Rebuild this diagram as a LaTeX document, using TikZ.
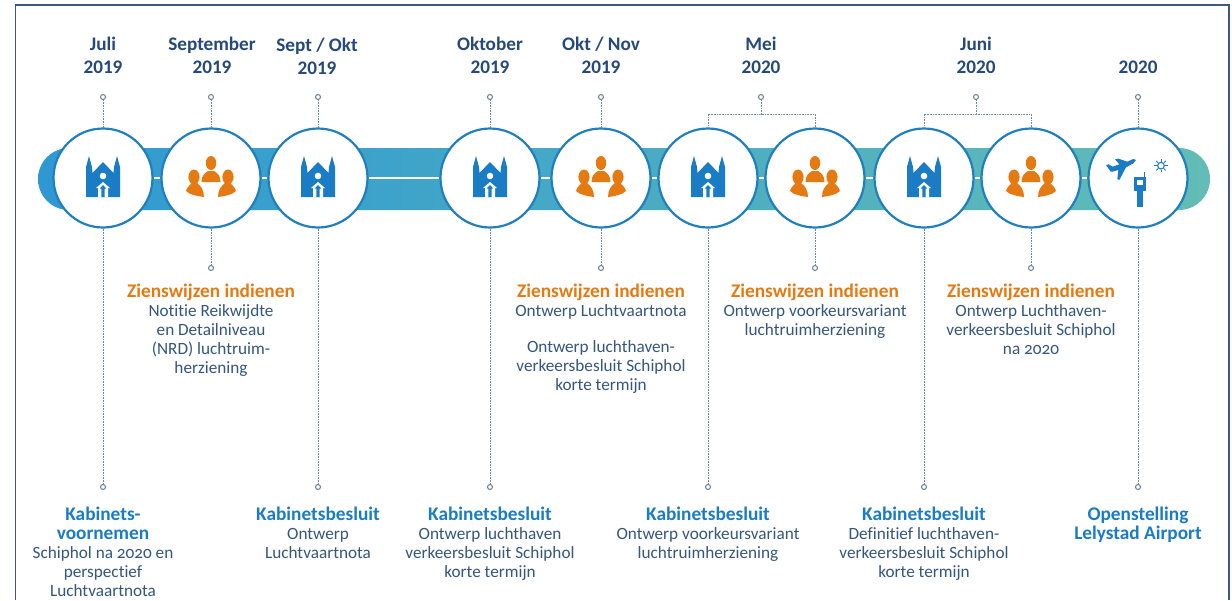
\documentclass[tikz,border=0pt]{standalone}
\usepackage{fontspec}
\setmainfont[Ligatures=NoCommon,Numbers=OldStyle]{Carlito}
\newfontfamily\datefont[Ligatures=NoCommon,Numbers=Lining]{Carlito}
\usetikzlibrary{calc}
\definecolor{cblue}{HTML}{1A7CC4}
\definecolor{cring}{HTML}{1F7FBF}
\definecolor{corange}{HTML}{E67A12}
\definecolor{cnavy}{HTML}{34567F}
\definecolor{cdate}{HTML}{24497A}
\definecolor{cdot}{HTML}{7488A3}
\definecolor{cbar}{HTML}{2F98D2}
\definecolor{cteal}{HTML}{62BDB6}
\definecolor{cframe}{HTML}{3F5680}
\newcommand{\hd}[1]{{\fontsize{19.3}{19}\selectfont\bfseries #1}}
\tikzset{
  x=1pt,y=-1pt,
  stopring/.style={circle,draw=cring,line width=2.2pt,fill=white,minimum size=99pt,inner sep=0pt},
  ringdot/.style={circle,draw=cdot,line width=1.1pt,fill=white,minimum size=5pt,inner sep=0pt},
  lead/.style={draw=cdot,line width=.8pt,dash pattern=on .9pt off .7pt},
  datelabel/.style={align=center,text=cdate,font=\fontsize{19.2}{23}\selectfont\datefont\bfseries,inner sep=0pt},
  bluelabel/.style={align=center,anchor=north,text=cnavy,font=\fontsize{17.2}{19}\selectfont,inner sep=0pt},
  church/.pic={
    \fill[cblue] (-17,19) -- (-17,-11) -- (-14,-22) -- (-11,-11) -- (-10.5,-5) -- (0,-16) -- (10.5,-5) -- (11,-11) -- (14,-22) -- (17,-11) -- (17,19) -- cycle;
    \fill[white] (0,-2) circle (3.3);
    \fill[white] (0,4) -- (7,10) -- (5,10) -- (5,19) -- (-5,19) -- (-5,10) -- (-7,10) -- cycle;
    \fill[cblue] (0,7) -- (3.2,10.5) -- (1.7,10.5) -- (1.7,19) -- (-1.7,19) -- (-1.7,10.5) -- (-3.2,10.5) -- cycle;
  },
  people/.pic={
    \fill[corange] (0,-15) ellipse (5.2 and 7);
    \fill[corange] (-9.5,4) .. controls (-9.5,-3) and (-6,-5) .. (-3,-7) -- (3,-7) .. controls (6,-5) and (9.5,-3) .. (9.5,4) -- cycle;
    \fill[corange] (-17,-1) ellipse (5.6 and 7.5);
    \fill[corange] (-25,13) .. controls (-24,9) and (-21,7) .. (-19,5) -- (-14,5) .. controls (-10,8) and (-7,12) .. (-7,19) .. controls (-14,18) and (-21,17) .. (-25,13) -- cycle;
    \fill[corange] (17,-1) ellipse (5.6 and 7.5);
    \fill[corange] (25,13) .. controls (24,9) and (21,7) .. (19,5) -- (14,5) .. controls (10,8) and (7,12) .. (7,19) .. controls (14,18) and (21,17) .. (25,13) -- cycle;
  },
}
\begin{document}
\begin{tikzpicture}
\useasboundingbox (0,0) rectangle (1232,600);
\fill[white] (0,0) rectangle (1232,600);
% frame
\draw[cframe,line width=1.6pt] (15.5,600) -- (15.5,5) -- (1229,5) -- (1229,600);
% bar
\shade[left color=cbar,right color=cteal,rounded corners=31pt] (38,148) rectangle (1210,210);
% nodes
\foreach \n/\cx in {a/103,b/211,c/318,d/490,e/601,f/708,g/815,h/924,i/1031,j/1138}{
  \node[stopring] (\n) at (\cx,178) {};
}
% white links
\foreach \p/\q in {a/b,b/c,c/d,d/e,e/f,f/g,g/h,h/i,i/j}{
  \draw[white,line width=2.4pt] (\p) -- (\q);
}
% icons
\foreach \n in {a,c,d,f,h}{ \path (\n.center) pic {church}; }
\foreach \n in {b,e,g,i}{ \path (\n.center) pic {people}; }
% airport icon (drawn in crop coordinates)
\begin{scope}[shift={(1090,130)},x=.3333pt,y=-.3333pt]
  \fill[cblue] (138,90) -- (130,100) -- (108,112) -- (88,150) -- (82,147) -- (85,120) -- (68,125) -- (62,125) -- (48,105) -- (56,103) -- (68,110) -- (88,103) -- (75,88) -- (85,86) -- (112,95) -- (130,87) -- cycle;
  \fill[cblue] (133,140) rectangle (167,183);
  \fill[white] (140,150) rectangle (160,165);
  \fill[cblue] (140,183) rectangle (160,232);
  \fill[cblue] (161,125) rectangle (165,140);
  \draw[cblue,line width=1.1pt] (213,107) circle (10);
  \foreach \a in {0,45,...,315}{ \draw[cblue,line width=.9pt] ($(213,107)+(\a:12)$) -- ($(213,107)+(\a:20)$); }
\end{scope}
% top dots
\node[ringdot] (ta) at (103,97) {};
\node[ringdot] (tb) at (211,97) {};
\node[ringdot] (tc) at (318,97) {};
\node[ringdot] (td) at (490,97) {};
\node[ringdot] (te) at (601,97) {};
\node[ringdot] (tfg) at (761,97) {};
\node[ringdot] (thi) at (976,97) {};
\node[ringdot] (tj) at (1138,97) {};
\foreach \n in {a,b,c,d,e,j}{ \draw[lead] (t\n) -- (\n); }
\coordinate (fgm) at (761,114);
\coordinate (him) at (976,114);
\draw[lead] (tfg) -- (fgm);
\draw[lead] (f.north) |- (fgm) -| (g.north);
\draw[lead] (thi) -- (him);
\draw[lead] (h.north) |- (him) -| (i.north);
% bottom dots
\node[ringdot] (ba) at (103,487) {};
\node[ringdot] (bb) at (211,268) {};
\node[ringdot] (bc) at (318,487) {};
\node[ringdot] (bd) at (490,487) {};
\node[ringdot] (be) at (601,268) {};
\node[ringdot] (bf) at (708,487) {};
\node[ringdot] (bg) at (815,268) {};
\node[ringdot] (bh) at (924,487) {};
\node[ringdot] (bi) at (1031,268) {};
\node[ringdot] (bj) at (1138,487) {};
\foreach \n in {a,b,c,d,e,f,g,h,i,j}{ \draw[lead] (\n) -- (b\n); }
% dates
\node[datelabel] (da) at (103,55) {Juli\\2019};
\node[datelabel] (db) at (212,55) {September\\2019};
\node[datelabel] (dc) at (317,56) {Sept / Okt\\2019};
\node[datelabel] (dd) at (490,55) {Oktober\\2019};
\node[datelabel] (de) at (601,55) {Okt / Nov\\2019};
\node[datelabel] (df) at (761,55) {Mei\\2020};
\node[datelabel] (dh) at (976,55) {Juni\\2020};
\node[datelabel] (dj) at (1138,67) {2020};
% upper texts
\node[bluelabel] (lb) at (211,283.5) {\textcolor{corange}{\hd{Zienswijzen indienen}}\\Notitie Reikwijdte\\en Detailniveau\\(NRD) luchtruim-\\herziening};
\node[bluelabel] (le) at (601,283.5) {\textcolor{corange}{\hd{Zienswijzen indienen}}\\Ontwerp Luchtvaartnota\\[17.5pt]Ontwerp luchthaven-\\verkeersbesluit Schiphol\\korte termijn};
\node[bluelabel] (lg) at (815,283.5) {\textcolor{corange}{\hd{Zienswijzen indienen}}\\Ontwerp voorkeursvariant\\luchtruimherziening};
\node[bluelabel] (li) at (1031,283.5) {\textcolor{corange}{\hd{Zienswijzen indienen}}\\Ontwerp Luchthaven-\\verkeersbesluit Schiphol\\na 2020};
% lower texts
\node[bluelabel] (la) at (103,507) {\textcolor{cblue}{\hd{Kabinets-}}\\\textcolor{cblue}{\hd{voornemen}}\\Schiphol na 2020 en\\perspectief\\Luchtvaartnota};
\node[bluelabel] (lc) at (318,507) {\textcolor{cblue}{\hd{Kabinetsbesluit}}\\Ontwerp\\Luchtvaartnota};
\node[bluelabel] (ld) at (490,507) {\textcolor{cblue}{\hd{Kabinetsbesluit}}\\Ontwerp luchthaven\\verkeersbesluit Schiphol\\korte termijn};
\node[bluelabel] (lf) at (708,507) {\textcolor{cblue}{\hd{Kabinetsbesluit}}\\Ontwerp voorkeursvariant\\luchtruimherziening};
\node[bluelabel] (lh) at (924,507) {\textcolor{cblue}{\hd{Kabinetsbesluit}}\\Definitief luchthaven-\\verkeersbesluit Schiphol\\korte termijn};
\node[bluelabel] (lj) at (1138,507) {\textcolor{cblue}{\hd{Openstelling}}\\\textcolor{cblue}{\hd{Lelystad Airport}}};
\end{tikzpicture}
\end{document}
